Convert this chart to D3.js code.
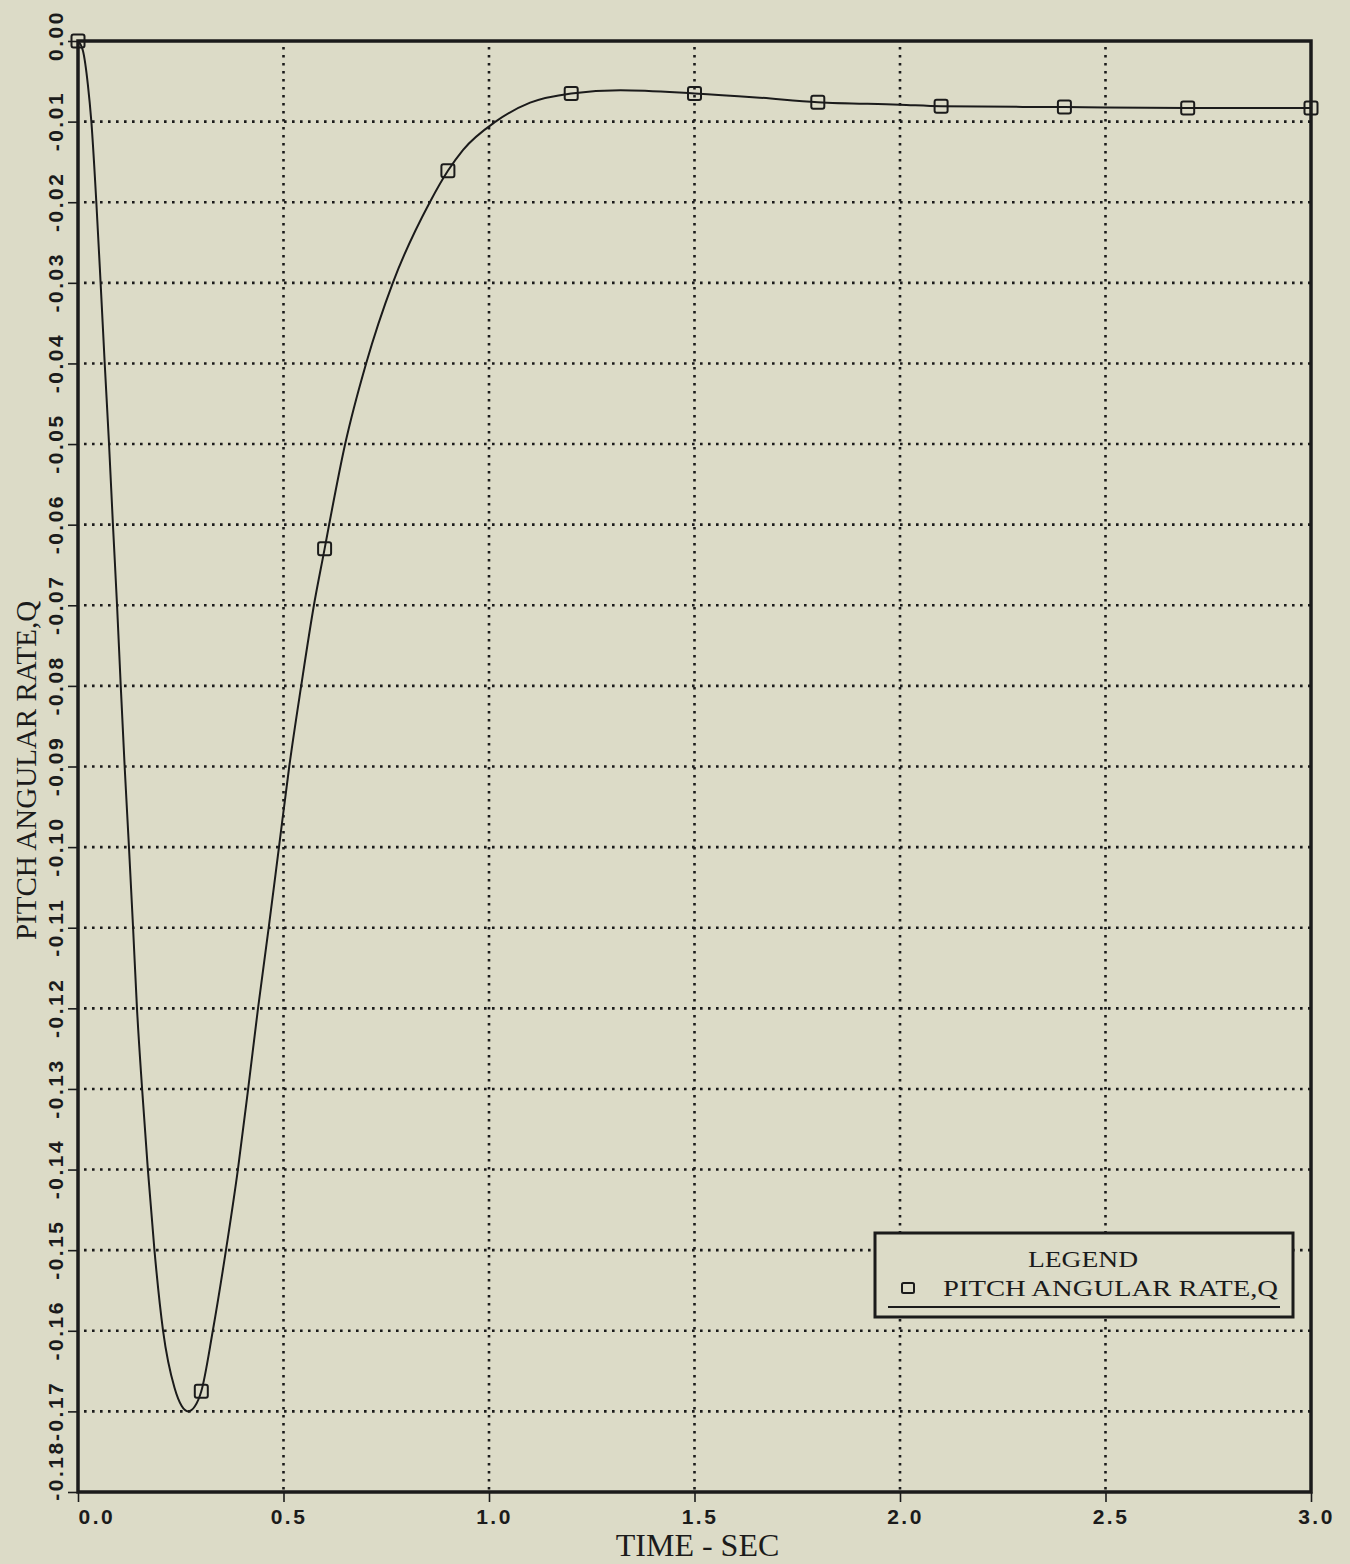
<!DOCTYPE html>
<html>
<head>
<meta charset="utf-8">
<script src="https://cdn.jsdelivr.net/npm/d3@7"></script>
<style>
  html, body { margin: 0; padding: 0; background: #dcdbc7; }
  svg { display: block; }
</style>
</head>
<body>
<svg id="chart" width="1350" height="1564"></svg>
<script>
// ---- data ----
const curveTime = [0, 0.012, 0.024, 0.0325, 0.0446, 0.055, 0.065, 0.0755, 0.085, 0.095, 0.104,
  0.1135, 0.124, 0.134, 0.1435, 0.156, 0.170, 0.186, 0.207, 0.235, 0.252, 0.268, 0.284, 0.3,
  0.328, 0.360, 0.389, 0.414, 0.438, 0.464, 0.489, 0.514, 0.543, 0.574, 0.6, 0.611, 0.650,
  0.701, 0.766, 0.856, 0.9, 0.937, 1.016, 1.1, 1.2, 1.32, 1.5, 1.65, 1.8, 2.0, 2.1, 2.4, 2.7, 3.0];
const curveRate = [0, -0.0012, -0.0054, -0.010, -0.020, -0.030, -0.040, -0.050, -0.060, -0.070, -0.080,
  -0.090, -0.100, -0.110, -0.120, -0.130, -0.140, -0.150, -0.160, -0.1671, -0.1693, -0.1700, -0.1694, -0.1675,
  -0.160, -0.150, -0.140, -0.130, -0.120, -0.110, -0.100, -0.090, -0.080, -0.070, -0.0630, -0.060, -0.050,
  -0.040, -0.030, -0.020, -0.0161, -0.0135, -0.010, -0.00765, -0.0065, -0.0061, -0.0065, -0.0070, -0.0076, -0.0079, -0.0081, -0.0082, -0.0083, -0.0083];
const markerTime = [0, 0.3, 0.6, 0.9, 1.2, 1.5, 1.8, 2.1, 2.4, 2.7, 3.0];
const markerRate = [0, -0.1675, -0.0630, -0.0161, -0.0065, -0.0065, -0.0076, -0.0081, -0.0082, -0.0083, -0.0083];
const xTicks = [0, 0.5, 1.0, 1.5, 2.0, 2.5, 3.0];
const xTickLabels = ["0.0", "0.5", "1.0", "1.5", "2.0", "2.5", "3.0"];
const yTicks = [0, -0.01, -0.02, -0.03, -0.04, -0.05, -0.06, -0.07, -0.08, -0.09, -0.10, -0.11, -0.12, -0.13, -0.14, -0.15, -0.16, -0.17, -0.18];
const yTickLabels = ["0.00", "-0.01", "-0.02", "-0.03", "-0.04", "-0.05", "-0.06", "-0.07", "-0.08", "-0.09", "-0.10", "-0.11", "-0.12", "-0.13", "-0.14", "-0.15", "-0.16", "-0.17", "-0.18"];
const xTitle = "TIME - SEC";
const yTitle = "PITCH ANGULAR RATE,Q";
const legendTitle = "LEGEND";
const seriesName = "PITCH ANGULAR RATE,Q";

// ---- layout ----
const L = 78, R = 1311, T = 41, B = 1492;
const ink = "#1b1b1b";
const bg = "#dcdbc7";
const svg = d3.select("#chart");
svg.append("rect").attr("width", 1350).attr("height", 1564).attr("fill", bg);

const x = d3.scaleLinear().domain([0, 3]).range([L, R]);
const y = d3.scaleLinear().domain([0, -0.18]).range([T, B]);

// grid
const grid = svg.append("g").attr("stroke", ink).attr("stroke-width", 2.6)
  .attr("stroke-dasharray", "2.6,5.4").attr("fill", "none");
grid.selectAll("line.h").data(yTicks.filter(v => v < 0 && v > -0.18)).enter().append("line")
  .attr("x1", L + 6).attr("x2", R).attr("y1", d => y(d)).attr("y2", d => y(d));
grid.selectAll("line.v").data(xTicks.filter(v => v > 0 && v < 3)).enter().append("line")
  .attr("y1", T + 6).attr("y2", B).attr("x1", d => x(d)).attr("x2", d => x(d));

const tickFont = sel => sel
  .style("font-family", "'Liberation Sans', Arial, sans-serif")
  .style("font-size", "21px").style("font-weight", "bold").style("letter-spacing", "2.5px");

// axes
const xAxis = d3.axisBottom(x).tickValues(xTicks).tickSize(10).tickSizeOuter(0)
  .tickFormat((d, i) => xTickLabels[i]);
const gx = svg.append("g").attr("transform", `translate(0,${B})`).call(xAxis);
gx.select(".domain").remove();
gx.selectAll(".tick line").attr("stroke", ink).attr("stroke-width", 1.6);
gx.selectAll(".tick text").attr("fill", ink).attr("y", 0).attr("dy", 0)
  .attr("transform", (d, i) => i === 0 ? "translate(0,32)" : "translate(5,32)")
  .attr("text-anchor", (d, i) => i === 0 ? "start" : "middle")
  .call(tickFont);

const yAxis = d3.axisLeft(y).tickValues(yTicks).tickSize(10).tickSizeOuter(0)
  .tickFormat((d, i) => yTickLabels[i]);
const gy = svg.append("g").attr("transform", `translate(${L},0)`).call(yAxis);
gy.select(".domain").remove();
gy.selectAll(".tick line").attr("stroke", ink).attr("stroke-width", 1.6);
const lastY = yTicks.length - 1;
gy.selectAll(".tick text").attr("fill", ink).attr("x", 0).attr("y", 0).attr("dy", 0)
  .attr("text-anchor", "middle")
  .attr("transform", (d, i) => {
    const dy = i === 0 ? -6 : (i === lastY ? -22 : -1);
    return `translate(-15,${dy}) rotate(-90)`;
  }).call(tickFont);

// frame
svg.append("rect").attr("x", L).attr("y", T).attr("width", R - L).attr("height", B - T)
  .attr("fill", "none").attr("stroke", ink).attr("stroke-width", 3.5);

// curve
const pts = curveTime.map((t, i) => [t, curveRate[i]]);
const line = d3.line().x(d => x(d[0])).y(d => y(d[1])).curve(d3.curveMonotoneX);
svg.append("path").datum(pts).attr("d", line).attr("fill", "none")
  .attr("stroke", ink).attr("stroke-width", 2);

// markers
const ms = 13;
svg.append("g").selectAll("rect").data(markerTime.map((t, i) => [t, markerRate[i]])).enter()
  .append("rect")
  .attr("x", d => x(d[0]) - ms / 2).attr("y", d => y(d[1]) - ms / 2)
  .attr("width", ms).attr("height", ms).attr("rx", 2)
  .attr("fill", "none").attr("stroke", ink).attr("stroke-width", 2);

// titles
svg.append("text").attr("x", (L + R) / 2 + 3).attr("y", 1556).attr("text-anchor", "middle")
  .attr("fill", ink).style("font-family", "'Liberation Serif', 'Times New Roman', serif")
  .style("font-size", "32px").text(xTitle);
svg.append("text").attr("text-anchor", "middle").attr("fill", ink)
  .attr("transform", `translate(36,${(T + B) / 2 + 4}) rotate(-90)`)
  .style("font-family", "'Liberation Serif', 'Times New Roman', serif")
  .style("font-size", "29px").text(yTitle);

// legend
const lg = svg.append("g");
lg.append("rect").attr("x", 875).attr("y", 1233).attr("width", 418).attr("height", 84)
  .attr("fill", bg).attr("stroke", ink).attr("stroke-width", 3);
lg.append("text").attr("x", 1028).attr("y", 1267).attr("fill", ink)
  .attr("textLength", 110).attr("lengthAdjust", "spacingAndGlyphs")
  .style("font-family", "'Liberation Serif', 'Times New Roman', serif").style("font-size", "24px")
  .text(legendTitle);
lg.append("rect").attr("x", 902).attr("y", 1283).attr("width", 12).attr("height", 10).attr("rx", 1.5)
  .attr("fill", "none").attr("stroke", ink).attr("stroke-width", 2);
lg.append("text").attr("x", 943).attr("y", 1296).attr("fill", ink)
  .attr("textLength", 335).attr("lengthAdjust", "spacingAndGlyphs")
  .style("font-family", "'Liberation Serif', 'Times New Roman', serif").style("font-size", "24px")
  .text(seriesName);
lg.append("line").attr("x1", 888).attr("x2", 1280).attr("y1", 1307).attr("y2", 1307)
  .attr("stroke", ink).attr("stroke-width", 2);
</script>
</body>
</html>
